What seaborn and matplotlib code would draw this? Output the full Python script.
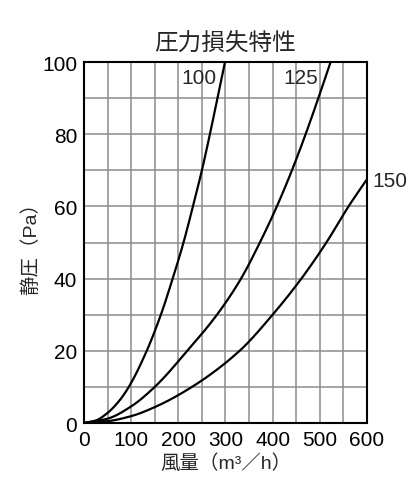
import numpy as np
import seaborn as sns
import matplotlib.pyplot as plt
from matplotlib.ticker import MultipleLocator

sns.set_style("white")
plt.rcParams['font.family'] = ['Liberation Sans', 'Noto Sans CJK JP', 'DejaVu Sans']

# Values (airflow m3/h -> static pressure Pa)
flow_100 = [0, 25, 50, 75, 95, 133, 163, 188, 211, 231, 250, 267, 283, 299]
pa_100 = [0, 0.7, 2.8, 6.2, 10, 20, 30, 40, 50, 60, 70, 80, 90, 100]
flow_125 = [0, 50, 100, 150, 219, 282, 333, 373, 409, 441, 470, 497, 523]
pa_125 = [0, 1.2, 4.6, 10, 20, 30, 40, 50, 60, 70, 80, 90, 100]
flow_150 = [0, 50, 100, 150, 229, 330, 400, 461, 514, 561, 600]
pa_150 = [0, 0.5, 1.9, 4.4, 10, 20, 30, 40, 50, 60, 67.5]

curve_names = ['100', '125', '150']


def pchip(xs, ys, xx):
    # monotone cubic through the read points, just for a smooth line
    x = np.asarray(xs, float)
    y = np.asarray(ys, float)
    h = np.diff(x)
    d = np.diff(y) / h
    m = np.zeros_like(y)
    for i in range(1, len(x) - 1):
        if d[i - 1] * d[i] > 0:
            w1 = 2 * h[i] + h[i - 1]
            w2 = h[i] + 2 * h[i - 1]
            m[i] = (w1 + w2) / (w1 / d[i - 1] + w2 / d[i])
    m[0] = d[0]
    m[-1] = d[-1]
    idx = np.clip(np.searchsorted(x, xx) - 1, 0, len(x) - 2)
    t = (xx - x[idx]) / h[idx]
    h00 = 2 * t**3 - 3 * t**2 + 1
    h10 = t**3 - 2 * t**2 + t
    h01 = -2 * t**3 + 3 * t**2
    h11 = t**3 - t**2
    return h00 * y[idx] + h10 * h[idx] * m[idx] + h01 * y[idx + 1] + h11 * h[idx] * m[idx + 1]


fig = plt.figure(figsize=(4.16, 4.81), dpi=100)
ax = fig.add_axes([0.202, 0.1185, 0.68, 0.7505])

for xs, ys in [(flow_100, pa_100), (flow_125, pa_125), (flow_150, pa_150)]:
    xx = np.linspace(xs[0], xs[-1], 300)
    sns.lineplot(x=xx, y=pchip(xs, ys, xx), ax=ax, color='black', linewidth=1.6)

ax.set_xlim(0, 600)
ax.set_ylim(0, 100)
ax.xaxis.set_major_locator(MultipleLocator(100))
ax.xaxis.set_minor_locator(MultipleLocator(50))
ax.yaxis.set_major_locator(MultipleLocator(20))
ax.yaxis.set_minor_locator(MultipleLocator(10))
ax.grid(which='both', color='#8c8c8c', linewidth=1.1)
ax.tick_params(labelsize=15, length=0, colors='black')
ax.tick_params(axis='x', pad=5)
ax.tick_params(axis='y', pad=5)
for s in ax.spines.values():
    s.set_color('black')
    s.set_linewidth(1.5)

ax.text(282, 95.6, curve_names[0], fontsize=15, ha='right', va='center')
ax.text(496, 95.6, curve_names[1], fontsize=15, ha='right', va='center')
ax.text(611, 67.2, curve_names[2], fontsize=15, ha='left', va='center')

ax.set_title('圧力損失特性', fontsize=17, pad=9)
ax.set_xlabel('風量（m³／h）', fontsize=14, labelpad=3)
ax.set_ylabel('静圧（Pa）', fontsize=14, labelpad=1)

fig.savefig('out.png', dpi=100)
